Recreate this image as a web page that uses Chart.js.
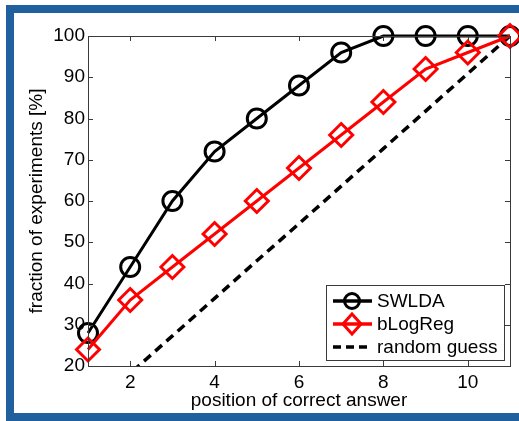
<!DOCTYPE html>
<html>
<head>
<meta charset="utf-8">
<script src="https://cdn.jsdelivr.net/npm/chart.js@4/dist/chart.umd.min.js"></script>
<style>
  html, body { margin: 0; padding: 0; background: #fff; overflow: hidden; }
  canvas { display: block; }
</style>
</head>
<body>
<canvas id="chart" width="519" height="421" style="width:519px;height:421px"></canvas>
<script>
// values
const positions = [1, 2, 3, 4, 5, 6, 7, 8, 9, 10, 11]
const swlda = [28, 44, 60, 72, 80, 88, 96, 100, 100, 100, 100]
const blogreg = [24, 36, 44, 52, 60, 68, 76, 84, 92, 96, 100]
const randomGuess = [9.1, 18.2, 27.3, 36.4, 45.5, 54.5, 63.6, 72.7, 81.8, 90.9, 100]
const xTicks = [2, 4, 6, 8, 10]
const yTicks = [20, 30, 40, 50, 60, 70, 80, 90, 100]

const toPoints = vals => vals.map((v, i) => ({x: positions[i], y: v}))

const FONT = 'Liberation Sans, Arial, Helvetica, sans-serif'

// blue slide frame (open on the right)
const slideFrame = {
    id: 'slideFrame',
    beforeDraw(chart) {
        const ctx = chart.ctx
        ctx.save()
        ctx.fillStyle = '#21609e'
        ctx.fillRect(6, 5, 513, 8)
        ctx.fillRect(6, 5, 8, 416)
        ctx.fillRect(6, 413, 513, 8)
        ctx.restore()
    }
}

// matlab style box with inward ticks + legend in the lower right corner
const matlabBox = {
    id: 'matlabBox',
    afterDraw(chart) {
        const ctx = chart.ctx
        const a = chart.chartArea
        const xs = chart.scales.x
        const ys = chart.scales.y
        const tl = 5
        ctx.save()
        ctx.strokeStyle = '#3a3a3a'
        ctx.lineWidth = 1
        ctx.strokeRect(a.left + 0.5, a.top + 0.5, a.right - a.left, a.bottom - a.top)
        ctx.beginPath()
        xTicks.forEach(v => {
            const px = Math.round(xs.getPixelForValue(v)) + 0.5
            ctx.moveTo(px, a.bottom); ctx.lineTo(px, a.bottom - tl)
            ctx.moveTo(px, a.top); ctx.lineTo(px, a.top + tl)
        })
        yTicks.forEach(v => {
            const py = Math.round(ys.getPixelForValue(v)) + 0.5
            ctx.moveTo(a.left, py); ctx.lineTo(a.left + tl, py)
            ctx.moveTo(a.right, py); ctx.lineTo(a.right - tl, py)
        })
        ctx.stroke()

        // legend
        const lx = 326, ly = 285, lw = 178, lh = 75
        ctx.fillStyle = '#fff'
        ctx.fillRect(lx, ly, lw, lh)
        ctx.strokeStyle = '#3a3a3a'
        ctx.strokeRect(lx + 0.5, ly + 0.5, lw, lh)
        const rows = [
            {label: 'SWLDA', color: '#000', marker: 'circle', dash: []},
            {label: 'bLogReg', color: '#ff0000', marker: 'diamond', dash: []},
            {label: 'random guess', color: '#000', marker: null, dash: [8, 5]}
        ]
        rows.forEach((r, i) => {
            const y = ly + 16 + i * 23
            ctx.strokeStyle = r.color
            ctx.lineWidth = 3.5
            ctx.setLineDash(r.dash)
            ctx.beginPath()
            ctx.moveTo(lx + 7, y); ctx.lineTo(lx + 46, y)
            ctx.stroke()
            ctx.setLineDash([])
            ctx.lineWidth = 3
            const cx = lx + 26
            if (r.marker === 'circle') {
                ctx.beginPath(); ctx.arc(cx, y, 7.5, 0, Math.PI * 2); ctx.stroke()
            } else if (r.marker === 'diamond') {
                ctx.beginPath()
                ctx.moveTo(cx, y - 10); ctx.lineTo(cx + 9, y); ctx.lineTo(cx, y + 10); ctx.lineTo(cx - 9, y)
                ctx.closePath(); ctx.stroke()
            }
            ctx.fillStyle = '#000'
            ctx.font = '19px ' + FONT
            ctx.textBaseline = 'middle'
            ctx.textAlign = 'left'
            ctx.fillText(r.label, lx + 51, y + 1)
        })
        ctx.restore()
    }
}

new Chart(document.getElementById('chart'), {
    type: 'line',
    data: {
        datasets: [
            {
                label: 'SWLDA',
                data: toPoints(swlda),
                borderColor: '#000',
                borderWidth: 3,
                pointStyle: 'circle',
                pointRadius: 9.5,
                pointBorderWidth: 3,
                pointBorderColor: '#000',
                pointBackgroundColor: 'rgba(0,0,0,0)',
                clip: false,
                order: 1
            },
            {
                label: 'bLogReg',
                data: toPoints(blogreg),
                borderColor: '#ff0000',
                borderWidth: 3,
                pointStyle: 'rectRot',
                pointRadius: 11.5,
                pointBorderWidth: 3,
                pointBorderColor: '#ff0000',
                pointBackgroundColor: 'rgba(0,0,0,0)',
                clip: false,
                order: 0
            },
            {
                label: 'random guess',
                data: toPoints(randomGuess),
                borderColor: '#000',
                borderWidth: 3.5,
                borderDash: [9, 6],
                pointRadius: 0,
                order: 2
            }
        ]
    },
    options: {
        responsive: false,
        animation: false,
        layout: {autoPadding: false, padding: {left: 14, top: 36, right: 9, bottom: 8}},
        plugins: {legend: {display: false}, tooltip: {enabled: false}},
        elements: {line: {tension: 0}},
        scales: {
            x: {
                type: 'linear',
                min: 1,
                max: 11,
                afterBuildTicks: s => { s.ticks = xTicks.map(v => ({value: v})) },
                afterFit: s => { s.height = 47; s.paddingLeft = 0; s.paddingRight = 0 },
                grid: {display: false, drawTicks: false},
                border: {display: false},
                ticks: {color: '#000', padding: 5, font: {family: FONT, size: 19}},
                title: {display: true, text: 'position of correct answer', color: '#000',
                        padding: {top: 0, bottom: 1}, font: {family: FONT, size: 19}}
            },
            y: {
                min: 20,
                max: 100,
                afterBuildTicks: s => { s.ticks = yTicks.map(v => ({value: v})) },
                afterFit: s => { s.width = 74; s.paddingTop = 0; s.paddingBottom = 0 },
                grid: {display: false, drawTicks: false},
                border: {display: false},
                ticks: {color: '#000', padding: 3, font: {family: FONT, size: 19}},
                title: {display: true, text: 'fraction of experiments [%]', color: '#000',
                        padding: {top: 11, bottom: 0}, font: {family: FONT, size: 19}}
            }
        }
    },
    plugins: [slideFrame, matlabBox]
})
</script>
</body>
</html>
